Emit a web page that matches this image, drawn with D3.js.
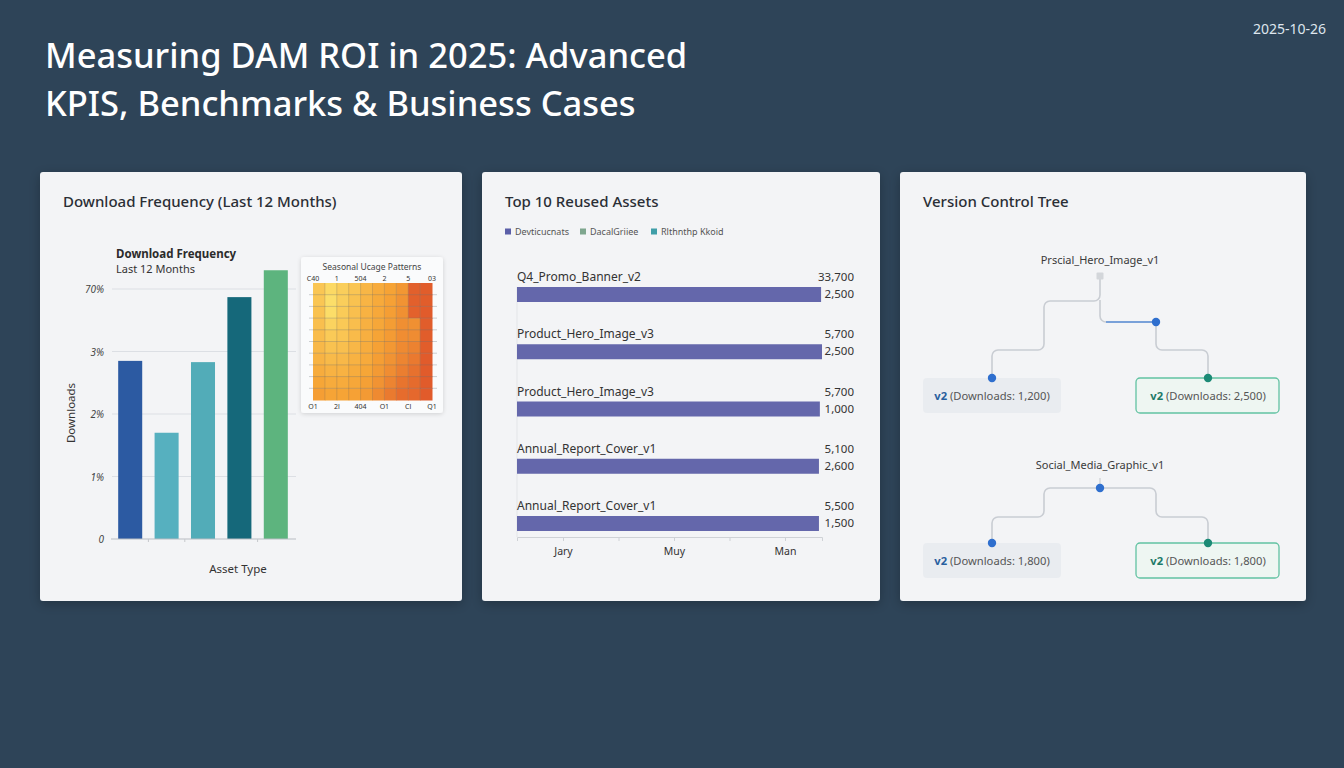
<!DOCTYPE html>
<html>
<head>
<meta charset="utf-8">
<script src="https://cdn.jsdelivr.net/npm/d3@7/dist/d3.min.js"></script>
<style>
  body { margin: 0; background: #2e4458; }
  svg { display: block; font-family: "Noto Sans", "Open Sans", sans-serif; }
</style>
</head>
<body>
<svg id="chart"></svg>
<script>
const W = 1344;
const H = 768;

// ---- data ----
const titleLines = ["Measuring DAM ROI in 2025: Advanced", "KPIS, Benchmarks & Business Cases"];
const reportDate = "2025-10-26";
const cardTitles = ["Download Frequency (Last 12 Months)", "Top 10 Reused Assets", "Version Control Tree"];

// card 1: bar chart
const assetTypes = ["Images", "Videos", "Documents", "Templates", "Brand Kits"];
const downloadShare = [2.85, 1.70, 2.83, 3.87, 4.30];
const yTicks = [0, 1, 2, 3, 4];
const yTickLabels = ["0", "1%", "2%", "3%", "70%"];
const barColors = ["#2c5aa2", "#56b0bf", "#52acb8", "#15687a", "#5db47e"];

// card 1: seasonal heatmap (rows top to bottom)
const heatValues = [
  [0.24, 0.10, 0.18, 0.25, 0.36, 0.44, 0.50, 0.58, 0.93, 0.95],
  [0.24, 0.06, 0.18, 0.27, 0.37, 0.45, 0.51, 0.60, 0.93, 0.95],
  [0.27, 0.07, 0.20, 0.29, 0.39, 0.46, 0.53, 0.62, 0.92, 0.96],
  [0.29, 0.14, 0.22, 0.30, 0.40, 0.47, 0.54, 0.63, 0.62, 0.95],
  [0.31, 0.21, 0.25, 0.32, 0.41, 0.49, 0.55, 0.64, 0.65, 0.95],
  [0.34, 0.27, 0.29, 0.35, 0.43, 0.51, 0.57, 0.66, 0.71, 0.95],
  [0.38, 0.33, 0.34, 0.39, 0.45, 0.53, 0.60, 0.69, 0.77, 0.96],
  [0.43, 0.39, 0.39, 0.43, 0.48, 0.56, 0.64, 0.74, 0.82, 0.96],
  [0.48, 0.44, 0.44, 0.47, 0.52, 0.60, 0.70, 0.80, 0.86, 0.96],
  [0.53, 0.49, 0.49, 0.51, 0.56, 0.66, 0.76, 0.85, 0.88, 0.96]
];
const heatTopLabels = ["C40", "1", "504", "2", "5", "03"];
const heatBottomLabels = ["O1", "2l", "404", "O1", "Cl", "Q1"];

// card 2: reused assets
const legendLabels = ["Devticucnats", "DacalGriiee", "Rlthnthp Kkoid"];
const legendColors = ["#5b5fa8", "#7ea68e", "#3f9ea8"];
const assetNames = ["Q4_Promo_Banner_v2", "Product_Hero_Image_v3", "Product_Hero_Image_v3", "Annual_Report_Cover_v1", "Annual_Report_Cover_v1"];
const reuseScore = [99.7, 100, 99.3, 99.0, 99.0];
const reuseTotals = [33700, 5700, 5700, 5100, 5500];
const reuseCounts = [2500, 2500, 1000, 2600, 1500];
const monthTicks = ["Jary", "", "Muy", "", "Man"];

// card 3: version trees
const treeRoots = ["Prscial_Hero_Image_v1", "Social_Media_Graphic_v1"];
const treeVersions = [["v2", "v2"], ["v2", "v2"]];
const treeDownloads = [[1200, 2500], [1800, 1800]];
const treeHasMerge = [true, false];

// ---- setup ----
const svg = d3.select("#chart").attr("width", W).attr("height", H);
const defs = svg.append("defs");

const shadow = defs.append("filter").attr("id", "shadow")
    .attr("x", "-10%").attr("y", "-10%").attr("width", "120%").attr("height", "120%");
shadow.append("feDropShadow").attr("dx", 0).attr("dy", 3).attr("stdDeviation", 6)
    .attr("flood-color", "#000").attr("flood-opacity", 0.25);

const softShadow = defs.append("filter").attr("id", "softShadow")
    .attr("x", "-20%").attr("y", "-20%").attr("width", "140%").attr("height", "140%");
softShadow.append("feDropShadow").attr("dx", 0).attr("dy", 1).attr("stdDeviation", 2)
    .attr("flood-color", "#000").attr("flood-opacity", 0.15);

svg.append("rect").attr("width", W).attr("height", H).attr("fill", "#2e4458");

// title + date
svg.append("g").selectAll("text")
    .data(titleLines)
    .enter()
    .append("text")
    .attr("x", 45)
    .attr("y", (d, i) => 68 + i * 48)
    .attr("font-size", 34.5)
    .attr("font-weight", 500)
    .attr("fill", "#ffffff")
    .text(d => d);

svg.append("text")
    .attr("x", 1326).attr("y", 34)
    .attr("text-anchor", "end")
    .attr("font-size", 14)
    .attr("fill", "#dfe6ee")
    .text(reportDate);

// cards
const cards = [
    { x: 40, w: 422 },
    { x: 482, w: 398 },
    { x: 900, w: 406 }
];
svg.append("g").selectAll("rect")
    .data(cards)
    .enter()
    .append("rect")
    .attr("x", d => d.x).attr("y", 172)
    .attr("width", d => d.w).attr("height", 429)
    .attr("rx", 3)
    .attr("fill", "#f3f4f6")
    .attr("filter", "url(#shadow)");

svg.append("g").selectAll("text")
    .data(cardTitles)
    .enter()
    .append("text")
    .attr("x", (d, i) => cards[i].x + 23)
    .attr("y", 207)
    .attr("font-size", 15)
    .attr("font-weight", 500)
    .attr("fill", "#2a2e35")
    .text(d => d);

// ---- card 1: bars ----
const g1 = svg.append("g");

g1.append("text").attr("x", 116).attr("y", 258)
    .attr("font-size", 11.5).attr("font-weight", 700).attr("fill", "#2b2b2b")
    .text("Download Frequency");
g1.append("text").attr("x", 116).attr("y", 273)
    .attr("font-size", 11).attr("fill", "#333")
    .text("Last 12 Months");

const x1 = d3.scaleBand().domain(assetTypes).range([112, 294]).paddingInner(0.34).paddingOuter(0.17);
const y1 = d3.scaleLinear().domain([0, 4]).range([539, 289]);

g1.append("g").selectAll("line")
    .data(yTicks.slice(1))
    .enter()
    .append("line")
    .attr("x1", 112).attr("x2", 296)
    .attr("y1", d => y1(d)).attr("y2", d => y1(d))
    .attr("stroke", "#dcdfe4").attr("stroke-width", 1);

g1.append("g").selectAll("text")
    .data(yTicks)
    .enter()
    .append("text")
    .attr("x", 104)
    .attr("y", d => y1(d) + 4)
    .attr("text-anchor", "end")
    .attr("font-size", 10)
    .attr("font-style", "italic")
    .attr("fill", "#444")
    .text((d, i) => yTickLabels[i]);

g1.append("g").selectAll("rect")
    .data(downloadShare)
    .enter()
    .append("rect")
    .attr("x", (d, i) => x1(assetTypes[i]))
    .attr("y", d => y1(d))
    .attr("width", x1.bandwidth())
    .attr("height", d => y1(0) - y1(d))
    .attr("fill", (d, i) => barColors[i]);

const xAxis1 = g1.append("g")
    .attr("transform", `translate(0,${y1(0)})`)
    .call(d3.axisBottom(x1).tickSize(3).tickSizeOuter(0).tickFormat(""));
xAxis1.select(".domain").attr("stroke", "#b9bdc3").attr("d", "M111,0H296");
xAxis1.selectAll(".tick line").attr("stroke", "#c5c8cc")
    .attr("transform", `translate(${-x1.step() / 2},0)`);
xAxis1.selectAll(".tick").filter((d, i) => i === 0 || i === 3).remove();

g1.append("text")
    .attr("transform", "translate(75,413) rotate(-90)")
    .attr("text-anchor", "middle")
    .attr("font-size", 11.5).attr("fill", "#333")
    .text("Downloads");

g1.append("text")
    .attr("x", 238).attr("y", 573)
    .attr("text-anchor", "middle")
    .attr("font-size", 11.5).attr("fill", "#333")
    .text("Asset Type");

// ---- card 1: heatmap inset ----
const hm = svg.append("g");
hm.append("rect")
    .attr("x", 301).attr("y", 257).attr("width", 142).attr("height", 156)
    .attr("rx", 3).attr("fill", "#fafbfc")
    .attr("filter", "url(#softShadow)");

hm.append("text").attr("x", 372).attr("y", 270)
    .attr("text-anchor", "middle").attr("font-size", 8.5).attr("fill", "#444")
    .text("Seasonal Ucage Patterns");

const hx = d3.scaleBand().domain(d3.range(10)).range([313, 432]);
const hy = d3.scaleBand().domain(d3.range(10)).range([283, 400]);
const hEdge = d3.scaleLinear().domain([0, 10]).range([313, 432]);
const heatColor = d3.scaleLinear().domain([0, 0.5, 1]).range(["#fde670", "#f6a335", "#df552a"]);

hm.append("g").selectAll("g")
    .data(heatValues)
    .enter()
    .append("g")
    .selectAll("rect")
    .data((row, r) => row.map((v, c) => ({ v, r, c })))
    .enter()
    .append("rect")
    .attr("x", d => hx(d.c)).attr("y", d => hy(d.r))
    .attr("width", hx.bandwidth() + 0.5).attr("height", hy.bandwidth() + 0.5)
    .attr("fill", d => heatColor(d.v));

hm.append("g").selectAll("line")
    .data(d3.range(1, 10))
    .enter()
    .append("line")
    .attr("x1", d => hEdge(d)).attr("x2", d => hEdge(d))
    .attr("y1", 283).attr("y2", 400)
    .attr("stroke", "#7a6a5a").attr("stroke-opacity", 0.35).attr("stroke-width", 0.8);

hm.append("g").selectAll("line")
    .data(d3.range(1, 10))
    .enter()
    .append("line")
    .attr("x1", 309).attr("x2", 437)
    .attr("y1", d => hy(d)).attr("y2", d => hy(d))
    .attr("stroke", "#6a7078").attr("stroke-opacity", 0.4).attr("stroke-width", 0.8);

hm.append("g").selectAll("text")
    .data(heatTopLabels)
    .enter()
    .append("text")
    .attr("x", (d, i) => hEdge(i * 2)).attr("y", 281)
    .attr("text-anchor", "middle").attr("font-size", 7).attr("fill", "#333")
    .text(d => d);

hm.append("g").selectAll("text")
    .data(heatBottomLabels)
    .enter()
    .append("text")
    .attr("x", (d, i) => hEdge(i * 2)).attr("y", 409)
    .attr("text-anchor", "middle").attr("font-size", 7).attr("fill", "#333")
    .text(d => d);

// ---- card 2: reused assets ----
const g2 = svg.append("g");

const legend = g2.append("g").selectAll("g")
    .data(legendLabels)
    .enter()
    .append("g")
    .attr("transform", (d, i) => `translate(${[505, 580, 651][i]},232)`);
legend.append("rect").attr("x", 0).attr("y", -3.5).attr("width", 6).attr("height", 6)
    .attr("fill", (d, i) => legendColors[i]);
legend.append("text").attr("x", 10).attr("y", 3)
    .attr("font-size", 9).attr("fill", "#555")
    .text(d => d);

const x2 = d3.scaleLinear().domain([0, 100]).range([517, 822]);
const y2 = d3.scalePoint().domain(d3.range(assetNames.length)).range([287, 516]);
const fmt = d3.format(",");

g2.append("line")
    .attr("x1", 517).attr("x2", 517).attr("y1", 287).attr("y2", 537)
    .attr("stroke", "#e3e5e8");

g2.append("g").selectAll("rect")
    .data(reuseScore)
    .enter()
    .append("rect")
    .attr("x", x2(0))
    .attr("y", (d, i) => y2(i))
    .attr("width", d => x2(d) - x2(0))
    .attr("height", 15)
    .attr("fill", "#6467ab");

g2.append("g").selectAll("text")
    .data(assetNames)
    .enter()
    .append("text")
    .attr("x", 517).attr("y", (d, i) => y2(i) - 6)
    .attr("font-size", 12).attr("fill", "#333")
    .text(d => d);

g2.append("g").selectAll("text")
    .data(reuseTotals)
    .enter()
    .append("text")
    .attr("x", 854).attr("y", (d, i) => y2(i) - 6)
    .attr("text-anchor", "end")
    .attr("font-size", 11.5).attr("fill", "#333")
    .text(d => fmt(d));

g2.append("g").selectAll("text")
    .data(reuseCounts)
    .enter()
    .append("text")
    .attr("x", 854).attr("y", (d, i) => y2(i) + 11)
    .attr("text-anchor", "end")
    .attr("font-size", 11.5).attr("fill", "#333")
    .text(d => fmt(d));

const months = d3.scalePoint().domain(d3.range(monthTicks.length)).range([563, 785]);
const axis2 = g2.append("g").attr("transform", "translate(0,537)");
axis2.call(d3.axisBottom(x2).tickValues([]).tickSizeOuter(4));
axis2.select(".domain").attr("stroke", "#cfd2d6");
const mAxis = g2.append("g").attr("transform", "translate(0,537)")
    .call(d3.axisBottom(months).tickSize(4).tickFormat(i => monthTicks[i]));
mAxis.select(".domain").remove();
mAxis.selectAll(".tick line").attr("stroke", "#cfd2d6");
mAxis.selectAll(".tick text").attr("font-size", 10.5).attr("fill", "#333")
    .attr("font-family", "Noto Sans").attr("dy", "1em");

// ---- card 3: version trees ----
const g3 = svg.append("g");
const leafX = d3.scalePoint().domain([0, 1]).range([992, 1208]);
const rootX = d3.mean([0, 1], d => leafX(d));
const treeTop = d3.scaleLinear().domain([0, 1]).range([260, 465]);

function elbow(points, r) {
    const p = d3.path();
    p.moveTo(points[0][0], points[0][1]);
    for (let i = 1; i < points.length - 1; i++) {
        p.arcTo(points[i][0], points[i][1], points[i + 1][0], points[i + 1][1], r);
    }
    const last = points[points.length - 1];
    p.lineTo(last[0], last[1]);
    return p.toString();
}

treeRoots.forEach((name, t) => {
    const top = treeTop(t);
    const leafY = top + (t === 0 ? 118 : 78);
    const midX = (rootX + leafX(1)) / 2 + 2;
    const leftElbow = 2 * rootX - midX;
    const links = [];
    let rootY;

    if (treeHasMerge[t]) {
        rootY = top + 16;
        const split = rootY + 25;
        const midY = rootY + 46;
        links.push({ pts: [[rootX, rootY], [rootX, split], [leftElbow, split], [leftElbow, leafY - 28], [leafX(0), leafY - 28], [leafX(0), leafY]], c: "#c9cdd3" });
        links.push({ pts: [[rootX, split - 1], [rootX, midY], [midX, midY]], c: "#c9cdd3" });
        links.push({ pts: [[rootX + 6, midY], [midX, midY]], c: "#5b8fd9" });
        links.push({ pts: [[midX, midY], [midX, leafY - 28], [leafX(1), leafY - 28], [leafX(1), leafY]], c: "#c9cdd3" });
    } else {
        rootY = top + 23;
        const lowY = leafY - 26;
        links.push({ pts: [[rootX, rootY - 10], [rootX, rootY]], c: "#d5d8dc" });
        links.push({ pts: [[rootX, rootY], [leftElbow, rootY], [leftElbow, lowY], [leafX(0), lowY], [leafX(0), leafY]], c: "#c9cdd3" });
        links.push({ pts: [[rootX, rootY], [midX, rootY], [midX, lowY], [leafX(1), lowY], [leafX(1), leafY]], c: "#c9cdd3" });
    }

    g3.append("text")
        .attr("x", rootX).attr("y", top + 4)
        .attr("text-anchor", "middle")
        .attr("font-size", 11).attr("fill", "#3a3a3a")
        .text(name);

    // leaf boxes
    const boxes = g3.append("g").selectAll("g")
        .data(treeDownloads[t])
        .enter()
        .append("g")
        .attr("transform", (d, i) => `translate(${leafX(i)},${leafY})`);
    boxes.append("rect")
        .attr("x", (d, i) => i === 0 ? -69 : -72)
        .attr("y", 0)
        .attr("width", (d, i) => i === 0 ? 138 : 143)
        .attr("height", 35)
        .attr("rx", 4)
        .attr("fill", (d, i) => i === 0 ? "#e9ecf0" : "#eef6f2")
        .attr("stroke", (d, i) => i === 0 ? "none" : "#62c2a2")
        .attr("stroke-width", 1.3);
    const label = boxes.append("text")
        .attr("x", 0).attr("y", 22)
        .attr("text-anchor", "middle")
        .attr("font-size", 11.2);
    label.append("tspan")
        .attr("font-weight", 700)
        .attr("fill", (d, i) => i === 0 ? "#2a5f9e" : "#1e7a68")
        .text((d, i) => treeVersions[t][i]);
    label.append("tspan")
        .attr("fill", "#555")
        .text(d => ` (Downloads: ${fmt(d)})`);

    g3.append("g").selectAll("path")
        .data(links)
        .enter()
        .append("path")
        .attr("d", d => elbow(d.pts, 6))
        .attr("fill", "none")
        .attr("stroke", d => d.c)
        .attr("stroke-width", 1.6);

    // nodes
    const nodes = [
        { x: leafX(0), y: leafY, c: "#2f6fce" },
        { x: leafX(1), y: leafY, c: "#1c8a76" }
    ];
    if (treeHasMerge[t]) {
        nodes.push({ x: midX, y: rootY + 46, c: "#2f6fce" });
        g3.append("rect")
            .attr("x", rootX - 3.5).attr("y", rootY - 3.5)
            .attr("width", 7).attr("height", 7).attr("rx", 1)
            .attr("fill", "#d3d6da");
    } else {
        nodes.push({ x: rootX, y: rootY, c: "#2f6fce" });
    }
    g3.append("g").selectAll("circle")
        .data(nodes)
        .enter()
        .append("circle")
        .attr("cx", d => d.x).attr("cy", d => d.y)
        .attr("r", 4.2)
        .attr("fill", d => d.c);
});
</script>
</body>
</html>
